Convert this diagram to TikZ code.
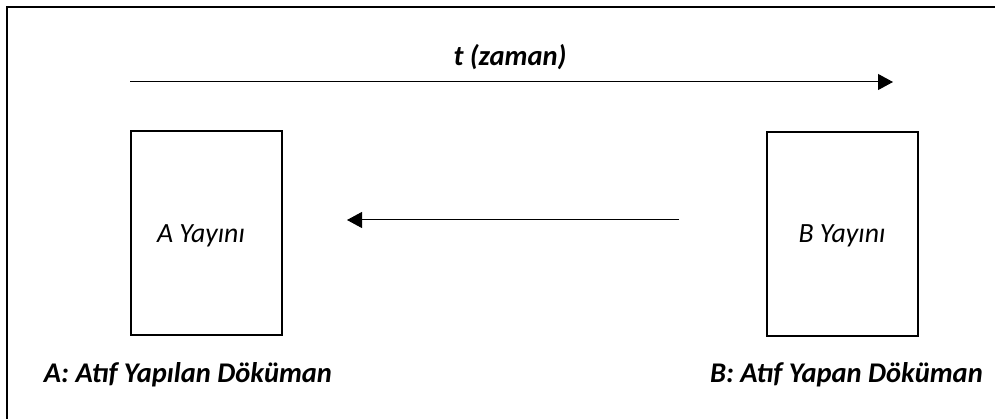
\documentclass[tikz,border=0pt]{standalone}
\usepackage{fontspec}
\setmainfont{Carlito}
\usepackage{tikz}
\usetikzlibrary{arrows.meta,positioning,calc}
\tikzstyle{yayin}=[draw,line width=2pt,inner sep=0pt,minimum width=151pt,minimum height=203pt]
\tikzstyle{yazi}=[inner sep=0pt,font=\fontsize{27.8}{32}\selectfont\itshape]
\tikzstyle{etiket}=[inner sep=0pt,font=\fontsize{28.5}{32}\selectfont\bfseries\itshape]
\tikzstyle{ok}=[line width=1pt,-{Triangle[length=15pt,width=16pt]}]

\begin{document}
\begin{tikzpicture}[x=1pt,y=-1pt]
\useasboundingbox (0,0) rectangle (995,419);
\draw[line width=2.5pt] (7,419) |- (995,7);
% zaman ekseni
\coordinate (t0) at (130,82);
\coordinate (t1) at (893,82);
\draw[ok] (t0) -- (t1);
\node [etiket] (zaman) at (510,57) {t (zaman)};
% yayinlar
\node [yayin] (a) at (206,233) {};
\node [yayin] (b) at (842,234) {};
\node [yazi] (ay) at ($(a.center)+(-5,3)$) {A Yayını};
\node [yazi] (by) at ($(b.center)+(0,2)$) {B Yayını};
\coordinate (atif0) at (679,220);
\coordinate (atif1) at (347,220);
\draw[ok] (atif0) -- (atif1);
\node [etiket] (aad) at (188,375) {A: Atıf Yapılan Döküman};
\node [etiket,anchor=east] (bad) at (983,375) {B: Atıf Yapan Döküman};
\end{tikzpicture}
\end{document}
